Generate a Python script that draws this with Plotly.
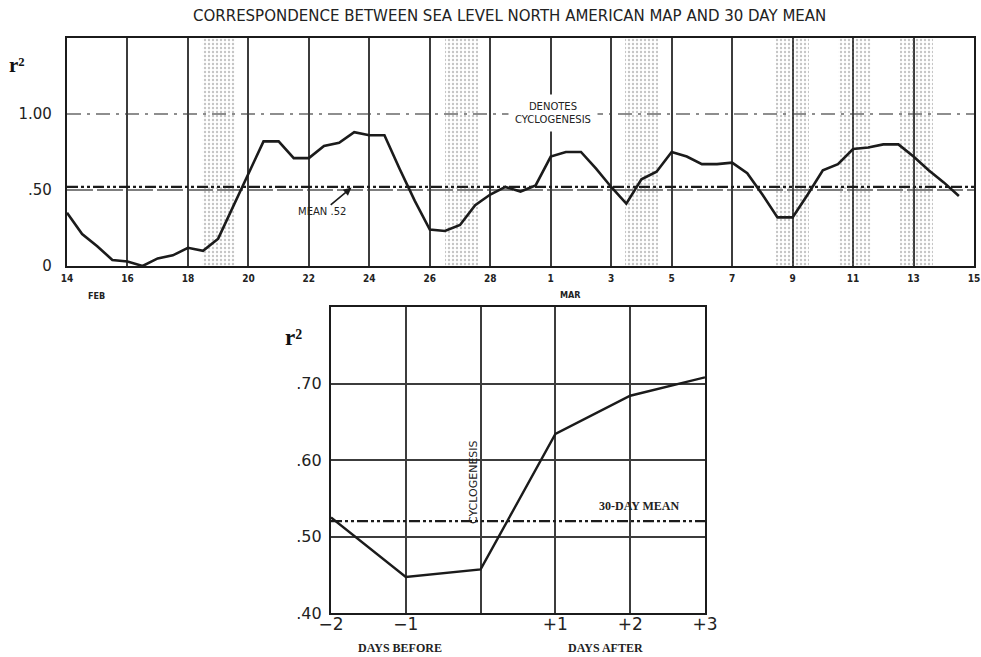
import numpy as np
import plotly.graph_objects as go

# ---------------------------------------------------------------------------
# Data
# ---------------------------------------------------------------------------
# Twice-daily r^2 between the sea-level map and the 30-day mean,
# starting 14 Feb (00 h) and running to 14 Mar (12 h).
r2_twice_daily = [
    0.35, 0.21, 0.13, 0.04, 0.03, 0.00, 0.05, 0.07, 0.12, 0.10,
    0.18, 0.39, 0.60, 0.82, 0.82, 0.71, 0.71, 0.79, 0.81, 0.88,
    0.86, 0.86, 0.64, 0.43, 0.24, 0.23, 0.27, 0.40, 0.47, 0.52,
    0.49, 0.53, 0.72, 0.75, 0.75, 0.64, 0.52, 0.41, 0.57, 0.62,
    0.75, 0.72, 0.67, 0.67, 0.68, 0.61, 0.47, 0.32, 0.32, 0.47,
    0.63, 0.67, 0.77, 0.78, 0.80, 0.80, 0.72, 0.63, 0.55, 0.46,
]
# Day offsets (from 14 Feb) of the dates tagged with cyclogenesis
cyclogenesis_day = [5.0, 13.05, 19.0, 24.0, 26.05, 28.1]
period_mean = 0.52

# Date tick labels every two days (leap-year February)
date_tick_days = list(range(0, 31, 2))
date_tick_labels = ["14", "16", "18", "20", "22", "24", "26", "28",
                    "1", "3", "5", "7", "9", "11", "13", "15"]

# Composite r^2 relative to the day of cyclogenesis
composite_day = [-2, -1, 0, 1, 2, 3]
composite_r2 = [0.525, 0.447, 0.457, 0.634, 0.684, 0.708]
composite_tick_labels = ["\u22122", "\u22121", "", "+1", "+2", "+3"]

# ---------------------------------------------------------------------------
# Layout helpers (figure is 981 x 657 px)
# ---------------------------------------------------------------------------
W, H = 981, 657


def px(x):
    return x / W


def py(y):
    return 1 - y / H


obs_day = np.arange(len(r2_twice_daily)) * 0.5
Y_TOP = 1.5

INK = "#1b1b1b"
GRID = "#3c3c3c"
SANS = "DejaVu Sans, Liberation Sans, sans-serif"
NARROW = "Liberation Sans Narrow, DejaVu Sans Condensed, Liberation Sans, sans-serif"
SERIF = "Liberation Serif, DejaVu Serif, serif"
MEAN_DASH = "11px,3px,3px,3px,3px,3px"

fig = go.Figure()

# Stippled bands marking cyclogenesis
fig.add_trace(go.Bar(
    x=cyclogenesis_day, y=[Y_TOP] * len(cyclogenesis_day), base=0,
    width=1.1, xaxis="x", yaxis="y", hoverinfo="skip", showlegend=False,
    marker=dict(color="rgba(0,0,0,0)", line=dict(width=0),
                pattern=dict(shape=".", fgcolor="rgba(110,110,110,0.4)",
                             size=4, solidity=0.28, fillmode="replace")),
))

# Daily correspondence curve
fig.add_trace(go.Scatter(
    x=obs_day, y=r2_twice_daily, mode="lines", xaxis="x", yaxis="y",
    line=dict(color=INK, width=2.6), showlegend=False, hoverinfo="skip",
))

# Composite curve
fig.add_trace(go.Scatter(
    x=composite_day, y=composite_r2, mode="lines", xaxis="x2", yaxis="y2",
    line=dict(color=INK, width=2.4), showlegend=False, hoverinfo="skip",
))

shapes = [
    # r^2 = 1.00 reference line
    dict(type="line", xref="x", yref="y", x0=0, x1=30, y0=1.0, y1=1.0,
         line=dict(color="#6a6a6a", width=1.4, dash="14px,6px,3px,6px"),
         layer="below"),
    # r^2 = .50 reference line
    dict(type="line", xref="x", yref="y", x0=0, x1=30, y0=0.5, y1=0.5,
         line=dict(color="#555", width=1.5, dash="26px,4px"), layer="below"),
    # period mean
    dict(type="line", xref="x", yref="y", x0=0, x1=30,
         y0=period_mean, y1=period_mean,
         line=dict(color=INK, width=2.2, dash=MEAN_DASH)),
    # 30-day mean on the composite
    dict(type="line", xref="x2", yref="y2", x0=-2, x1=3,
         y0=period_mean, y1=period_mean,
         line=dict(color=INK, width=2.2, dash=MEAN_DASH)),
]


def label(text, x, y, **kw):
    """Text centred on a pixel position of the page."""
    return dict(text=text, x=px(x), y=py(y), xref="paper", yref="paper",
                xanchor="center", yanchor="middle", showarrow=False, **kw)


annotations = [
    label("CORRESPONDENCE BETWEEN SEA LEVEL NORTH AMERICAN MAP AND 30 DAY MEAN",
          509, 16, font=dict(family=SANS, size=15, color="#222")),
    label("r\u00b2", 17, 65,
          font=dict(family=SERIF, size=21, color="#111", weight="bold")),
    label("FEB", 96, 296,
          font=dict(family=NARROW, size=9, color="#222", weight="bold")),
    label("MAR", 570, 295,
          font=dict(family=NARROW, size=9, color="#222", weight="bold")),
    label("DENOTES<br>CYCLOGENESIS", 553, 113, bgcolor="white", borderpad=6,
          font=dict(family=SANS, size=10, color="#222")),
    dict(text="MEAN .52", x=(352 - 67) / 30.2, y=period_mean, xref="x", yref="y",
         ax=-30, ay=25, showarrow=True, arrowhead=2, arrowsize=1, arrowwidth=1.6,
         arrowcolor=INK, standoff=1,
         font=dict(family=SANS, size=10, color="#222")),
    label("r\u00b2", 293, 337,
          font=dict(family=SERIF, size=23, color="#111", weight="bold")),
    label("30-DAY MEAN", 639, 506,
          font=dict(family=SERIF, size=12, color="#222", weight="bold")),
    label("CYCLOGENESIS", 473, 482, textangle=-90,
          font=dict(family=SANS, size=11, color="#222")),
    label("DAYS BEFORE", 400, 648,
          font=dict(family=SERIF, size=12, color="#222", weight="bold")),
    label("DAYS AFTER", 605, 648,
          font=dict(family=SERIF, size=12, color="#222", weight="bold")),
]

frame = dict(showline=True, linecolor=INK, linewidth=2.2, mirror=True,
             zeroline=False, automargin=False, ticks="", tickmode="array")

fig.update_layout(
    width=W, height=H,
    margin=dict(l=0, r=0, t=0, b=0, autoexpand=False),
    paper_bgcolor="white", plot_bgcolor="white",
    barmode="overlay", bargap=0,
    shapes=shapes, annotations=annotations,
    xaxis=dict(
        frame, domain=[px(67), px(974)], anchor="y", range=[0, 30],
        tickvals=date_tick_days, ticktext=date_tick_labels, ticklabelstandoff=2,
        tickfont=dict(family=NARROW, size=10, color="#222", weight="bold"),
        showgrid=True, gridcolor=GRID, gridwidth=1.6,
    ),
    yaxis=dict(
        frame, domain=[py(266), py(38)], anchor="x", range=[0, Y_TOP],
        tickvals=[0, 0.5, 1.0], ticktext=["0", ".50", "1.00"],
        ticklabelstandoff=10,
        tickfont=dict(family=SANS, size=15, color="#222"),
        showgrid=False,
    ),
    xaxis2=dict(
        frame, domain=[px(331), px(705)], anchor="y2", range=[-2, 3],
        tickvals=composite_day, ticktext=composite_tick_labels,
        ticklabelstandoff=-6,
        tickfont=dict(family=SANS, size=17, color="#222"),
        showgrid=True, gridcolor=GRID, gridwidth=1.6,
    ),
    yaxis2=dict(
        frame, domain=[py(613), py(307)], anchor="x2", range=[0.4, 0.8],
        tickvals=[0.4, 0.5, 0.6, 0.7], ticktext=[".40", ".50", ".60", ".70"],
        ticklabelstandoff=4,
        tickfont=dict(family=SANS, size=16, color="#222"),
        showgrid=True, gridcolor=GRID, gridwidth=1.6,
    ),
)

fig.write_html("out.html")
